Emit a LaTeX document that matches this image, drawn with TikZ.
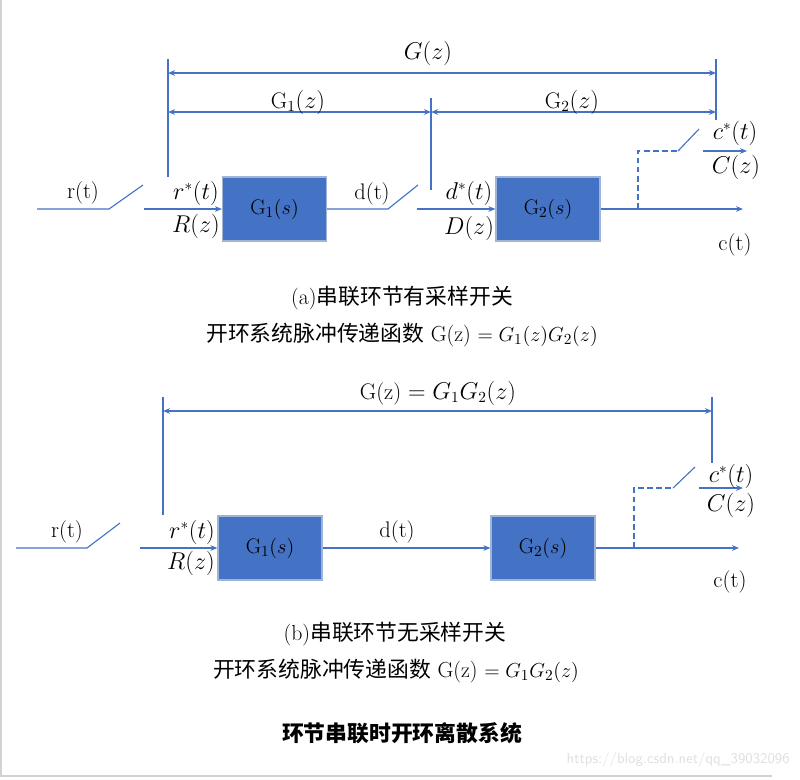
\documentclass[tikz,border=0pt]{standalone}
\usepackage{fontspec}
\newfontfamily\cjk{Noto Sans CJK SC}
\usetikzlibrary{arrows.meta, positioning}
\definecolor{offblue}{RGB}{68,114,196}
\definecolor{edgeblue}{RGB}{160,180,215}

\begin{document}
\begin{tikzpicture}[x=0.025cm, y=-0.025cm, >={Stealth[length=5pt,width=4pt]},
    wire/.style={draw=offblue, line width=0.8pt},
    dimarrow/.style={draw=offblue, line width=0.9pt, <->},
    dashwire/.style={draw=offblue, line width=0.8pt, dash pattern=on 4pt off 2.5pt},
    blk/.style={draw=edgeblue, fill=offblue, line width=0.8pt, minimum width=2.6cm, minimum height=1.6cm, inner sep=0pt, font=\fontsize{15}{17}\selectfont},
    lbl/.style={inner sep=0pt, font=\fontsize{16}{18}\selectfont},
    captext/.style={inner sep=0pt, font=\fontsize{15.5}{18}\selectfont}]
    \useasboundingbox (0,0) rectangle (800,779);
    \draw[gray!35, line width=1pt] (1,0) -- (1,776) -- (772,776);

    % (a) with sampler between the blocks
    \coordinate (a-in) at (37,209);
    \coordinate (a-sw1) at (109,209);
    \coordinate (a-sw1e) at (143,185);
    \coordinate (a-rs) at (144,209);
    \node[blk] (a-g1) at (274.5,209) {$\mathrm{G}_1(s)$};
    \coordinate (a-sw2) at (388,209);
    \coordinate (a-sw2e) at (418,185);
    \coordinate (a-ds) at (417,209);
    \node[blk] (a-g2) at (548,209) {$\mathrm{G}_2(s)$};
    \coordinate (a-tap) at (638,209);
    \coordinate (a-out) at (743,209);
    \coordinate (a-tapt) at (638,151);
    \coordinate (a-sw3) at (678,151);
    \coordinate (a-sw3e) at (699,129);
    \coordinate (a-cs) at (703,151);
    \coordinate (a-cout) at (747,151);
    \draw[wire] (a-in) -- (a-sw1) -- (a-sw1e);
    \draw[wire,->] (a-rs) -- (a-g1.west);
    \draw[wire] (a-g1.east) -- (a-sw2) -- (a-sw2e);
    \draw[wire,->] (a-ds) -- (a-g2.west);
    \draw[wire,->] (a-g2.east) -- (a-out);
    \draw[dashwire] (a-tap) -- (a-tapt) -- (a-sw3);
    \draw[wire] (a-sw3) -- (a-sw3e);
    \draw[wire,->] (a-cs) -- (a-cout);
    \node[lbl] (a-r) at (83,193) {r(t)};
    \node[lbl] (a-rstar) at (196,193) {$r^*(t)$};
    \node[lbl] (a-R) at (196,226) {$R(z)$};
    \node[lbl] (a-d) at (372,194) {d(t)};
    \node[lbl] (a-dstar) at (469,193) {$d^*(t)$};
    \node[lbl] (a-D) at (469,228) {$D(z)$};
    \node[lbl] (a-cstar) at (735,133) {$c^*(t)$};
    \node[lbl] (a-C) at (736,167) {$C(z)$};
    \node[lbl] (a-c) at (735,245) {c(t)};
    % dimension lines
    \coordinate (a-v1t) at (168,59);
    \coordinate (a-v1b) at (168,177);
    \coordinate (a-v2t) at (431,98);
    \coordinate (a-v2b) at (431,190);
    \coordinate (a-v3t) at (716,59);
    \coordinate (a-v3b) at (716,120);
    \draw[wire] (a-v1t) -- (a-v1b);
    \draw[wire] (a-v2t) -- (a-v2b);
    \draw[wire] (a-v3t) -- (a-v3b);
    \draw[dimarrow] (a-v1t |- 0,73) -- (a-v3t |- 0,73);
    \draw[dimarrow] (a-v1t |- 0,112) -- (a-v2t |- 0,112);
    \draw[dimarrow] (a-v2t |- 0,112) -- (a-v3t |- 0,112);
    \node[lbl] (a-G) at (428,53) {$G(z)$};
    \node[lbl] (a-G1) at (298,102) {$\mathrm{G}_1(z)$};
    \node[lbl] (a-G2) at (572,102) {$\mathrm{G}_2(z)$};
    \node[captext] (a-cap1) at (402,298) {(a){\cjk 串联环节有采样开关}};
    \node[captext] (a-cap2) at (402,335) {{\cjk 开环系统脉冲传递函数} G(z) $= G_1(z)G_2(z)$};

    % (b) without sampler between the blocks
    \coordinate (b-in) at (16,548);
    \coordinate (b-sw1) at (87,548);
    \coordinate (b-sw1e) at (120,523);
    \coordinate (b-rs) at (140,548);
    \node[blk] (b-g1) at (270,548) {$\mathrm{G}_1(s)$};
    \node[blk] (b-g2) at (543,548) {$\mathrm{G}_2(s)$};
    \coordinate (b-tap) at (634,548);
    \coordinate (b-out) at (739,548);
    \coordinate (b-tapt) at (634,488);
    \coordinate (b-sw3) at (673,488);
    \coordinate (b-sw3e) at (695,467);
    \coordinate (b-cs) at (699,488);
    \coordinate (b-cout) at (743,488);
    \draw[wire] (b-in) -- (b-sw1) -- (b-sw1e);
    \draw[wire,->] (b-rs) -- (b-g1.west);
    \draw[wire,->] (b-g1.east) -- (b-g2.west);
    \draw[wire,->] (b-g2.east) -- (b-out);
    \draw[dashwire] (b-tap) -- (b-tapt) -- (b-sw3);
    \draw[wire] (b-sw3) -- (b-sw3e);
    \draw[wire,->] (b-cs) -- (b-cout);
    \node[lbl] (b-r) at (67,532) {r(t)};
    \node[lbl] (b-rstar) at (192,532) {$r^*(t)$};
    \node[lbl] (b-R) at (191,563) {$R(z)$};
    \node[lbl] (b-d) at (397,532) {d(t)};
    \node[lbl] (b-cstar) at (731,476) {$c^*(t)$};
    \node[lbl] (b-C) at (731,505) {$C(z)$};
    \node[lbl] (b-c) at (730,582) {c(t)};
    \coordinate (b-v1t) at (163,397);
    \coordinate (b-v1b) at (163,515);
    \coordinate (b-v3t) at (712,397);
    \coordinate (b-v3b) at (712,463);
    \draw[wire, line width=1.2pt] (b-v1t) -- (b-v1b);
    \draw[wire, line width=1.2pt] (b-v3t) -- (b-v3b);
    \draw[dimarrow, line width=1.2pt] (b-v1t |- 0,411) -- (b-v3t |- 0,411);
    \node[lbl] (b-G) at (438,393) {G(z) $= G_1G_2(z)$};
    \node[captext] (b-cap1) at (395,634) {(b){\cjk 串联环节无采样开关}};
    \node[captext] (b-cap2) at (396,671) {{\cjk 开环系统脉冲传递函数} G(z) $= G_1G_2(z)$};

    \node[captext] (title) at (402,733) {\cjk\bfseries 环节串联时开环离散系统};
    \node[anchor=east, inner sep=0pt, text=gray!25, font=\fontsize{10.5}{12}\sffamily] (mark) at (790,760) {https://blog.csdn.net/qq\_39032096};
\end{tikzpicture}
\end{document}
